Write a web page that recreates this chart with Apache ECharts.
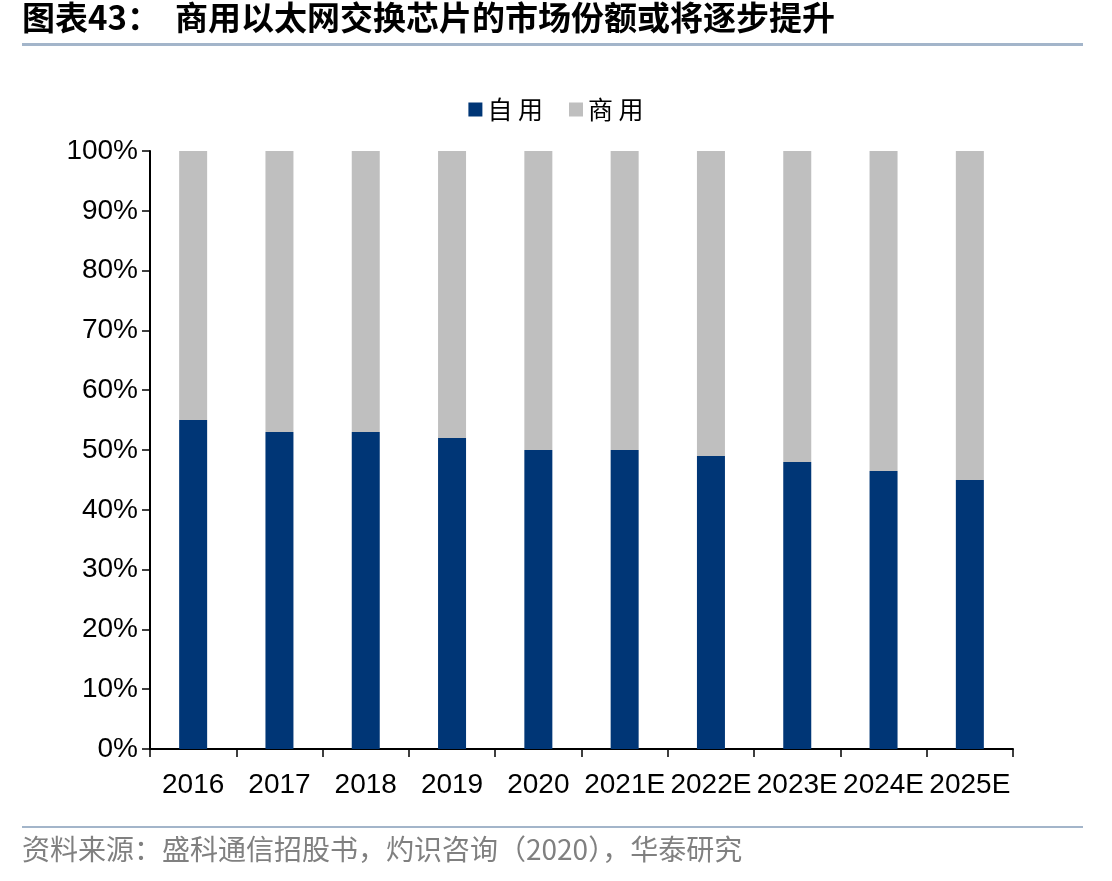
<!DOCTYPE html>
<html>
<head>
<meta charset="utf-8">
<script src="https://cdn.jsdelivr.net/npm/echarts@6/dist/echarts.min.js"></script>
<style>
  html, body { margin: 0; padding: 0; background: #fff; }
  #chart { width: 1112px; height: 881px; }
</style>
</head>
<body>
<div id="chart"></div>
<script>
// 数据
var years = ['2016', '2017', '2018', '2019', '2020', '2021E', '2022E', '2023E', '2024E', '2025E'];
var selfUse = [55, 53, 53, 52, 50, 50, 49, 48, 46.5, 45];
var commercial = selfUse.map(function (v) { return 100 - v; });

var myChart = echarts.init(document.getElementById('chart'));
var cjk = '"Noto Sans CJK SC", sans-serif';
var latin = 'Arial, "Liberation Sans", sans-serif';

var option = {
  animation: false,
  color: ['#003676', '#bfbfbf'],
  graphic: [
    {
      type: 'text', left: 22, top: 1,
      style: { text: '图表43：  商用以太网交换芯片的市场份额或将逐步提升', font: 'bold 33px ' + cjk, fill: '#000' }
    },
    {
      type: 'rect', shape: { x: 22, y: 43, width: 1061, height: 3 },
      style: { fill: '#a3b5ca' }
    },
    {
      type: 'rect', shape: { x: 22, y: 826, width: 1061, height: 2 },
      style: { fill: '#a3b5ca' }
    },
    {
      type: 'text', left: 22, top: 835,
      style: { text: '资料来源：盛科通信招股书，灼识咨询（2020），华泰研究', font: '28px ' + cjk, fill: '#808080' }
    }
  ],
  legend: {
    top: 92,
    left: 'center',
    itemWidth: 14,
    itemHeight: 14,
    itemGap: 26,
    icon: 'rect',
    formatter: function (name) { return name.split('').join(' '); },
    textStyle: { fontFamily: cjk, fontSize: 25, color: '#000' },
    data: ['自用', '商用']
  },
  grid: { left: 150, right: 99, top: 151, bottom: 132 },
  xAxis: {
    type: 'category',
    data: years,
    axisLine: { lineStyle: { color: '#000', width: 2 } },
    axisTick: { show: true, length: 8, lineStyle: { color: '#000', width: 1.5 } },
    axisLabel: { fontFamily: latin, fontSize: 28, color: '#000', margin: 22, interval: 0 }
  },
  yAxis: {
    type: 'value',
    min: 0, max: 100, interval: 10,
    splitLine: { show: false },
    axisLine: { show: true, lineStyle: { color: '#000', width: 2 } },
    axisTick: { show: true, length: 8, lineStyle: { color: '#000', width: 1.5 } },
    axisLabel: { fontFamily: latin, fontSize: 28, color: '#000', margin: 12, formatter: '{value}%' }
  },
  series: [
    { name: '自用', type: 'bar', stack: 'total', barWidth: 28, data: selfUse },
    { name: '商用', type: 'bar', stack: 'total', barWidth: 28, data: commercial }
  ]
};
myChart.setOption(option);
</script>
</body>
</html>
